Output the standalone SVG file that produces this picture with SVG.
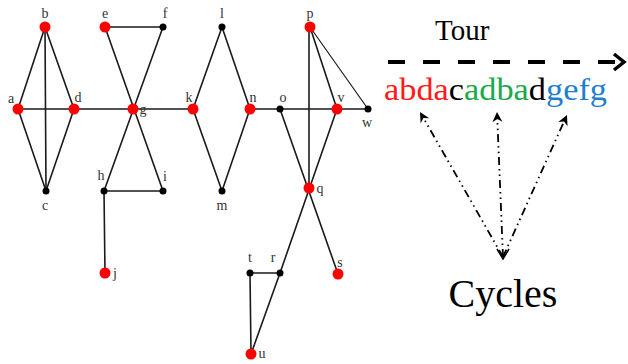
<svg xmlns="http://www.w3.org/2000/svg" width="628" height="364" viewBox="0 0 628 364">
<rect width="628" height="364" fill="#fff"/>
<g id="connectors" stroke="#1a1a1a" stroke-width="1.6" fill="none" stroke-linecap="round">
<line x1="18" y1="109" x2="45" y2="27"/>
<line x1="45" y1="27" x2="74" y2="109"/>
<line x1="45" y1="27" x2="46" y2="191"/>
<line x1="18" y1="109" x2="46" y2="191"/>
<line x1="74" y1="109" x2="46" y2="191"/>
<line x1="18" y1="109" x2="193" y2="109"/>
<line x1="105" y1="27" x2="163" y2="27"/>
<line x1="105" y1="27" x2="163" y2="191"/>
<line x1="163" y1="27" x2="104" y2="191"/>
<line x1="104" y1="191" x2="163" y2="191"/>
<line x1="104" y1="191" x2="105" y2="273"/>
<line x1="193" y1="109" x2="222" y2="27"/>
<line x1="222" y1="27" x2="250" y2="109"/>
<line x1="193" y1="109" x2="222" y2="191"/>
<line x1="222" y1="191" x2="250" y2="109"/>
<line x1="250" y1="109" x2="368" y2="109"/>
<line x1="309" y1="27" x2="309" y2="188"/>
<line x1="310" y1="27" x2="337" y2="109"/>
<line x1="310" y1="27" x2="368" y2="109" stroke-width="1.2"/>
<line x1="280" y1="109" x2="338" y2="274"/>
<line x1="337" y1="109" x2="280" y2="273"/>
<line x1="250" y1="273" x2="280" y2="273"/>
<line x1="250" y1="273" x2="251" y2="354"/>
<line x1="280" y1="273" x2="251" y2="354"/>
</g>
<g id="nodes" font-size="14" fill="#333" text-anchor="middle">
<g id="node-a"><circle fill="#f00" cx="18" cy="109" r="5.5"/><text font-family="Liberation Serif" x="11" y="103">a</text></g>
<g id="node-b"><circle fill="#f00" cx="45" cy="27" r="5.5"/><text font-family="Liberation Serif" x="45" y="18">b</text></g>
<g id="node-c"><circle fill="#000" cx="46" cy="191" r="3.5"/><text font-family="Liberation Serif" x="45" y="210">c</text></g>
<g id="node-d"><circle fill="#f00" cx="74" cy="109" r="5.5"/><text font-family="Liberation Serif" x="78" y="102">d</text></g>
<g id="node-e"><circle fill="#f00" cx="105" cy="27" r="5.5"/><text font-family="Liberation Serif" x="105" y="18">e</text></g>
<g id="node-f"><circle fill="#000" cx="163" cy="27" r="3.5"/><text font-family="Liberation Serif" x="165" y="18">f</text></g>
<g id="node-g"><circle fill="#f00" cx="133" cy="109" r="5.5"/><text font-family="Liberation Serif" x="143" y="114">g</text></g>
<g id="node-h"><circle fill="#000" cx="104" cy="191" r="3.5"/><text font-family="Liberation Serif" x="101" y="180">h</text></g>
<g id="node-i"><circle fill="#000" cx="163" cy="191" r="3.5"/><text font-family="Liberation Serif" x="165" y="181">i</text></g>
<g id="node-j"><circle fill="#f00" cx="105" cy="273" r="5.5"/><text font-family="Liberation Serif" x="115" y="278">j</text></g>
<g id="node-k"><circle fill="#f00" cx="193" cy="109" r="5.5"/><text font-family="Liberation Serif" x="189" y="102">k</text></g>
<g id="node-l"><circle fill="#000" cx="222" cy="27" r="3.5"/><text font-family="Liberation Serif" x="222" y="18">l</text></g>
<g id="node-m"><circle fill="#000" cx="222" cy="191" r="3.5"/><text font-family="Liberation Serif" x="222" y="210">m</text></g>
<g id="node-n"><circle fill="#f00" cx="250" cy="109" r="5.5"/><text font-family="Liberation Serif" x="253" y="102">n</text></g>
<g id="node-o"><circle fill="#000" cx="280" cy="109" r="3.5"/><text font-family="Liberation Serif" x="283" y="102">o</text></g>
<g id="node-p"><circle fill="#f00" cx="310" cy="27" r="5.5"/><text font-family="Liberation Serif" x="310" y="18">p</text></g>
<g id="node-q"><circle fill="#f00" cx="309" cy="188" r="5.5"/><text font-family="Liberation Serif" x="320" y="193">q</text></g>
<g id="node-r"><circle fill="#000" cx="280" cy="273" r="3.5"/><text font-family="Liberation Serif" x="273" y="262">r</text></g>
<g id="node-s"><circle fill="#f00" cx="338" cy="274" r="5.5"/><text font-family="Liberation Serif" x="340" y="267">s</text></g>
<g id="node-t"><circle fill="#000" cx="250" cy="273" r="3.5"/><text font-family="Liberation Serif" x="250" y="262">t</text></g>
<g id="node-u"><circle fill="#f00" cx="251" cy="354" r="5.5"/><text font-family="Liberation Serif" x="262" y="358">u</text></g>
<g id="node-v"><circle fill="#f00" cx="337" cy="109" r="5.5"/><text font-family="Liberation Serif" x="341" y="102">v</text></g>
<g id="node-w"><circle fill="#000" cx="368" cy="109" r="3.5"/><text font-family="Liberation Serif" x="367" y="127">w</text></g>
</g>
<g id="tour">
<text font-family="Liberation Serif" fill="#000" x="435" y="40" font-size="29">Tour</text>
<line x1="388" y1="62" x2="624" y2="62" stroke="#000" stroke-width="4" stroke-dasharray="17 18"/>
<polyline points="614,54 624,62 614,70" fill="none" stroke="#000" stroke-width="3.5"/>
</g>
<g id="sequence">
<text font-family="Liberation Serif" x="384" y="100" font-size="32" textLength="223" lengthAdjust="spacingAndGlyphs"><tspan fill="#ff1a1a">abda</tspan><tspan fill="#000">c</tspan><tspan fill="#1aaa4a">adba</tspan><tspan fill="#000">d</tspan><tspan fill="#1f7ed0">gefg</tspan></text>
</g>
<g id="cycles">
<g stroke="#000" stroke-width="1.8" fill="none" stroke-dasharray="8 4 1.5 4 1.5 4">
<line x1="503" y1="257" x2="423.5" y2="118.1"/>
<line x1="503" y1="257" x2="497.3" y2="119"/>
<line x1="503" y1="257" x2="564.1" y2="121.4"/>
</g>
<g fill="#000">
<polygon points="420,112 429.3,118.2 423.5,118.1 420.6,123.2"/>
<polygon points="497,112 502.4,121.8 497.3,119 492.4,122.2"/>
<polygon points="567,115 567.5,126.2 564.1,121.4 558.3,122.1"/>
</g>
<polyline points="497,249 503,259 509,249" fill="none" stroke="#000" stroke-width="1.5"/>
<text font-family="Liberation Serif" fill="#000" x="503" y="307" font-size="40" text-anchor="middle">Cycles</text>
</g>
</svg>
